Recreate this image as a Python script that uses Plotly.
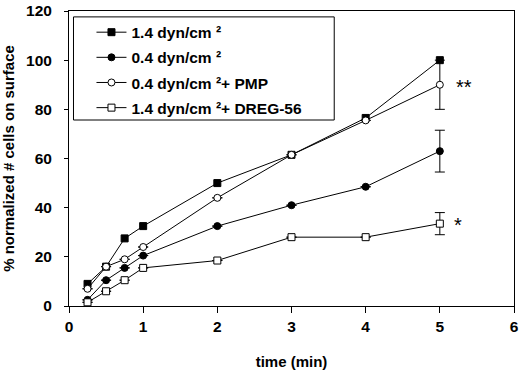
import plotly.graph_objects as go

time_min = [0.25, 0.5, 0.75, 1, 2, 3, 4, 5]
shear_14 = [9, 16, 27.5, 32.5, 50, 61.5, 76.5, 100]
shear_04 = [2.5, 10.5, 15.5, 20.5, 32.5, 41, 48.5, 63]
shear_04_pmp = [7, 16, 19, 24, 44, 61.5, 75.5, 90]
shear_14_dreg = [1.5, 6, 10.5, 15.5, 18.5, 28, 28, 33.5]

err_04 = [None, None, None, None, None, None, None, 8.5]
err_04_pmp = [None, None, None, None, None, None, None, 10]
err_14_dreg = [None, None, None, None, None, None, None, 4.5]

names = ["1.4 dyn/cm ²", "0.4 dyn/cm ²",
         "0.4 dyn/cm ²+ PMP", "1.4 dyn/cm ²+ DREG-56"]

FONT = "Liberation Sans, Arial, sans-serif"

series = [
    (shear_14, None, "square", "black"),
    (shear_04, err_04, "circle", "black"),
    (shear_04_pmp, err_04_pmp, "circle", "white"),
    (shear_14_dreg, err_14_dreg, "square", "white"),
]

fig = go.Figure()
for i, (vals, err, sym, fill) in enumerate(series):
    tr = dict(
        x=time_min, y=vals, mode="lines+markers", name=names[i],
        legendgroup=f"g{i}",
        line=dict(color="black", width=1),
        marker=dict(symbol=sym, size=7, color=fill, line=dict(color="black", width=1)),
    )
    if err is not None:
        tr["error_y"] = dict(type="data", array=err, visible=True, color="black",
                             thickness=1, width=5)
    fig.add_trace(go.Scatter(**tr))

fig.add_annotation(x=5.33, y=89, text="**", showarrow=False,
                   font=dict(family=FONT, size=20, color="black"))
fig.add_annotation(x=5.25, y=33, text="*", showarrow=False,
                   font=dict(family=FONT, size=20, color="black"))

# legend frame
fig.add_shape(type="rect", xref="paper", yref="paper",
              x0=0.0101, x1=0.596, y0=0.6305, y1=0.98,
              line=dict(color="black", width=1), fillcolor="rgba(0,0,0,0)")

axis_common = dict(
    showline=True, linecolor="black", linewidth=1, mirror=True,
    tickcolor="black", tickwidth=1, ticks="outside",
    showgrid=False, zeroline=False, automargin=False,
    tickfont=dict(family=FONT, size=15.5, color="black", weight="bold"),
)

fig.update_layout(
    width=520, height=370,
    margin=dict(l=68.5, r=6, t=11, b=64),
    paper_bgcolor="white", plot_bgcolor="white",
    font=dict(family=FONT, color="black"),
    xaxis=dict(range=[0, 6], tickvals=[0, 1, 2, 3, 4, 5, 6], ticklen=6,
               title=dict(text="time (min)", standoff=23,
                          font=dict(family=FONT, size=15, color="black", weight="bold")),
               **axis_common),
    yaxis=dict(range=[0, 120], dtick=20, ticklen=4, ticklabelstandoff=9,
               title=dict(text="% normalized # cells on surface", standoff=15,
                          font=dict(family=FONT, size=15, color="black", weight="bold")),
               **axis_common),
    legend=dict(x=0.0505, y=0.9844, xanchor="left", yanchor="top",
                bgcolor="rgba(0,0,0,0)", borderwidth=0,
                tracegroupgap=2,
                font=dict(family=FONT, size=15.5, color="black", weight="bold")),
    showlegend=True,
)

fig.write_html("out.html", config={"displayModeBar": False},
               post_script="document.body.style.margin='0px';")
